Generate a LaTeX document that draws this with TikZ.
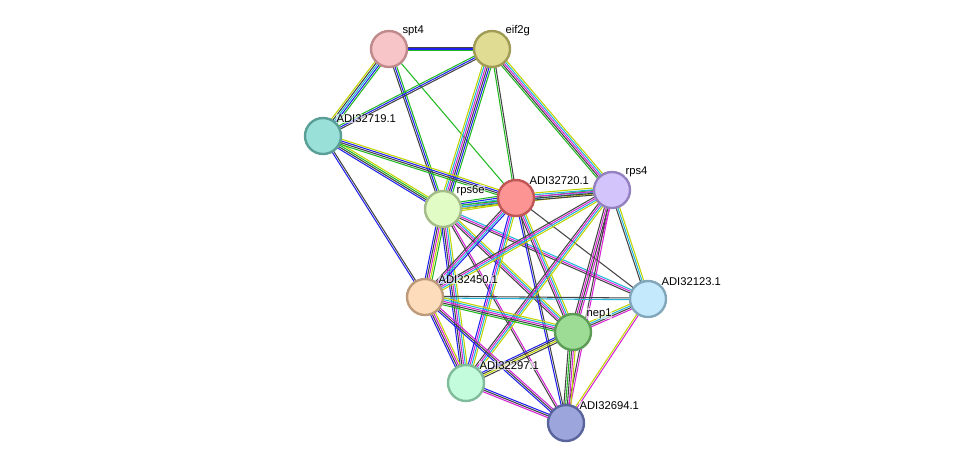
\documentclass[tikz,border=0pt]{standalone}
\usepackage{fontspec}
\setmainfont{Liberation Sans}
\usetikzlibrary{calc,backgrounds}
\definecolor{yl}{HTML}{C2D400}
\definecolor{gn}{HTML}{22B822}
\definecolor{bl}{HTML}{2222F0}
\definecolor{bk}{HTML}{444444}
\definecolor{cy}{HTML}{22B4D8}
\definecolor{mg}{HTML}{D624D6}
\newcommand\link[3]{%
  \foreach \c [count=\i] in {#3}{\global\let\nlinks\i}%
  \foreach \c [count=\i] in {#3}{%
    \pgfmathsetmacro\off{(\i-(\nlinks+1)/2)*1.25}%
    \draw[\c,line width=.75pt] ($(#1)!\off pt!90:(#2)$) -- ($(#2)!\off pt!-90:(#1)$);}}
\begin{document}
\begin{tikzpicture}[x=0.025cm,y=-0.025cm
    ,prot/.style={draw, circle, minimum size=0.9cm, line width=1.7pt, inner sep=0pt}
    ,lbl/.style={font=\fontsize{8}{9}\selectfont, inner sep=0.5pt, anchor=south west, fill=white, fill opacity=.6, text opacity=1}
    ,every label/.style={lbl}
    ,label distance=-1pt
  ]
  \useasboundingbox (0,0) rectangle (976,469);
  \node[prot, fill={rgb,255:red,247;green,197;blue,199}, draw={rgb,255:red,192;green,138;blue,140}, label=45:spt4] (spt4) at (389,49) {};
  \node[prot, fill={rgb,255:red,224;green,220;blue,148}, draw={rgb,255:red,160;green,156;blue,86}, label=45:eif2g] (eif2g) at (492,49) {};
  \node[prot, fill={rgb,255:red,153;green,224;blue,216}, draw={rgb,255:red,90;green,158;blue,150}, label=45:ADI32719.1] (a719) at (323,136) {};
  \node[prot, fill={rgb,255:red,226;green,252;blue,198}, draw={rgb,255:red,164;green,188;blue,136}, label=45:rps6e] (rps6e) at (443,209) {};
  \node[prot, fill={rgb,255:red,252;green,148;blue,148}, draw={rgb,255:red,192;green,86;blue,86}, label=45:ADI32720.1] (a720) at (516,198) {};
  \node[prot, fill={rgb,255:red,212;green,196;blue,252}, draw={rgb,255:red,148;green,130;blue,192}, label=45:rps4] (rps4) at (612,190) {};
  \node[prot, fill={rgb,255:red,253;green,220;blue,188}, draw={rgb,255:red,188;green,154;blue,122}, label=45:ADI32450.1] (a450) at (425,297) {};
  \node[prot, fill={rgb,255:red,196;green,232;blue,252}, draw={rgb,255:red,130;green,166;blue,186}, label=45:ADI32123.1] (a123) at (648,299) {};
  \node[prot, fill={rgb,255:red,156;green,220;blue,148}, draw={rgb,255:red,92;green,156;blue,86}, label=45:nep1] (nep1) at (573,332) {};
  \node[prot, fill={rgb,255:red,194;green,252;blue,220}, draw={rgb,255:red,128;green,188;blue,154}, label=45:ADI32297.1] (a297) at (466,383) {};
  \node[prot, fill={rgb,255:red,156;green,166;blue,220}, draw={rgb,255:red,90;green,100;blue,156}, label=45:ADI32694.1] (a694) at (566,423) {};

  \begin{pgfonlayer}{background}
    \link{spt4}{eif2g}{gn,bl,bk}
    \link{spt4}{a719}{yl,bk,cy,bl,gn}
    \link{spt4}{rps6e}{bk,bl,gn}
    \link{spt4}{a720}{gn}
    \link{eif2g}{a719}{gn,bl,bk}
    \link{eif2g}{rps6e}{yl,cy,mg,bk,bl,gn}
    \link{eif2g}{a720}{gn,bk}
    \link{eif2g}{rps4}{gn,bk,mg,cy,yl}
    \link{a719}{rps6e}{bl,bk,gn,yl}
    \link{a719}{a720}{gn,bk,bl,yl}
    \link{a719}{a450}{bl,bk}
    \link{rps6e}{a720}{yl,bk,mg,cy,bl,gn}
    \link{rps6e}{rps4}{yl,cy,gn}
    \link{a720}{rps4}{bk,bk,mg,cy,yl}
    \link{rps6e}{a450}{bl,bk,mg,yl,gn}
    \link{rps6e}{a297}{bl,bk,mg,cy,yl}
    \link{rps6e}{a694}{bk,mg}
    \link{rps6e}{nep1}{bk,mg,cy,yl}
    \link{rps6e}{a123}{bk,mg,cy}
    \link{a720}{a450}{bk,mg,cy,bl}
    \link{a720}{a297}{bl,mg,cy,yl}
    \link{a720}{a694}{bl,bk}
    \link{a720}{nep1}{bk,mg,cy,yl}
    \link{a720}{a123}{bk}
    \link{rps4}{a450}{bk,mg,cy,yl}
    \link{rps4}{a297}{bk,mg,cy,yl}
    \link{rps4}{nep1}{bk,mg,bk,mg}
    \link{rps4}{a694}{bk,mg}
    \link{rps4}{a123}{bk,cy,yl}
    \link{a450}{a123}{cy,bk}
    \link{a450}{nep1}{gn,bk,mg,cy,yl}
    \link{a450}{a297}{bl,bk,mg,yl}
    \link{a450}{a694}{bl,bk,mg}
    \link{a123}{nep1}{yl,cy,bk,mg}
    \link{a123}{a694}{yl,mg}
    \link{nep1}{a297}{bl,bk,yl,bk}
    \link{nep1}{a694}{bk,gn,bk,mg,yl}
    \link{a297}{a694}{mg,bk,bl}
  \end{pgfonlayer}
\end{tikzpicture}
\end{document}
